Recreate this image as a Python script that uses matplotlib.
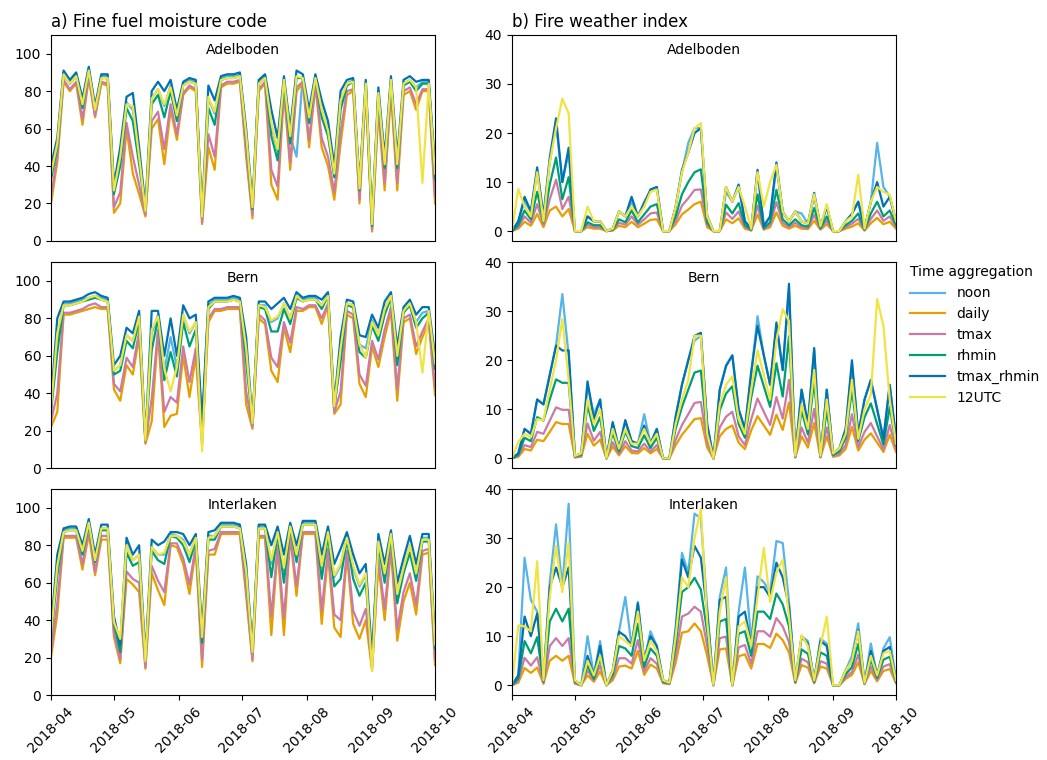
import matplotlib
matplotlib.use('Agg')
import matplotlib.pyplot as plt
import matplotlib.dates as mdates
import pandas as pd

# every third day from 1 April to 1 October 2018
dates = pd.date_range('2018-04-01', periods=62, freq='3D')
aggregations = ['noon', 'daily', 'tmax', 'rhmin', 'tmax_rhmin', '12UTC']
stations = ['Adelboden', 'Bern', 'Interlaken']

#%% fine fuel moisture code, Adelboden
ffmc_adel_noon = [36, 52, 90, 85, 89, 73, 92, 71, 88, 88, 27, 44, 74, 70, 45, 17, 76, 81, 72, 83,
                  67, 84, 86, 85, 14, 76, 68, 87, 88, 88, 89, 57, 18, 85, 88, 62, 48, 86, 56, 45,
                  88, 66, 88, 70, 59, 36, 74, 84, 86, 28, 85, 9, 80, 41, 86, 41, 84, 86, 82, 85, 85, 36]
ffmc_adel_daily = [20, 42, 85, 80, 84, 62, 87, 66, 84, 83, 15, 20, 60, 36, 25, 13, 60, 65, 41, 70,
                   54, 78, 82, 80, 9, 50, 38, 82, 84, 84, 85, 45, 12, 80, 84, 30, 22, 80, 38, 80,
                   84, 50, 83, 50, 40, 22, 52, 78, 80, 20, 80, 5, 70, 27, 80, 27, 78, 80, 70, 80, 80, 20]
ffmc_adel_tmax = [24, 45, 86, 81, 85, 65, 88, 67, 85, 84, 18, 26, 63, 45, 30, 14, 64, 69, 49, 73,
                  57, 79, 83, 81, 10, 57, 45, 83, 85, 85, 86, 48, 14, 81, 85, 38, 29, 82, 42, 82,
                  85, 54, 84, 55, 45, 26, 58, 80, 81, 22, 81, 6, 72, 31, 82, 31, 80, 82, 73, 81, 81, 24]
ffmc_adel_rhmin = [33, 50, 89, 84, 88, 71, 91, 70, 87, 87, 25, 40, 71, 64, 41, 16, 73, 78, 66, 80,
                   64, 83, 85, 84, 13, 71, 62, 86, 87, 87, 88, 55, 17, 84, 87, 56, 43, 85, 52, 87,
                   87, 63, 87, 66, 56, 34, 70, 83, 85, 27, 84, 8, 78, 39, 85, 39, 83, 85, 80, 84, 84, 33]
ffmc_adel_tmax_rhmin = [40, 55, 91, 86, 90, 76, 93, 72, 89, 89, 30, 50, 77, 79, 50, 18, 80, 85, 80, 86,
                        70, 85, 87, 86, 15, 83, 75, 88, 89, 89, 90, 60, 20, 86, 89, 70, 55, 88, 60, 91,
                        89, 70, 89, 75, 64, 40, 80, 86, 87, 30, 86, 10, 82, 45, 88, 45, 86, 88, 85, 86, 86, 40]
ffmc_adel_12utc = [36, 52, 89, 84, 88, 73, 91, 70, 87, 87, 27, 45, 73, 72, 45, 16, 76, 81, 73, 82,
                   67, 83, 85, 84, 13, 77, 69, 86, 87, 87, 88, 57, 18, 84, 87, 63, 49, 86, 56, 88,
                   87, 66, 87, 70, 59, 36, 75, 84, 85, 28, 84, 9, 79, 41, 86, 41, 84, 86, 82, 31, 84, 36]

#%% fine fuel moisture code, Bern
ffmc_bern_noon = [32, 70, 88, 88, 89, 90, 91, 92, 91, 90, 52, 55, 71, 68, 81, 15, 72, 82, 52, 70,
                  54, 82, 72, 78, 22, 87, 90, 90, 90, 91, 90, 63, 24, 87, 87, 78, 80, 88, 80, 92,
                  90, 91, 91, 87, 93, 30, 63, 88, 87, 66, 64, 79, 71, 85, 92, 59, 84, 88, 78, 83, 84, 56]
ffmc_bern_daily = [22, 30, 82, 82, 83, 84, 85, 86, 85, 85, 42, 36, 55, 50, 70, 13, 25, 72, 22, 28,
                   29, 60, 38, 60, 12, 78, 84, 84, 85, 85, 85, 34, 21, 80, 77, 52, 46, 75, 62, 84,
                   84, 86, 86, 77, 87, 29, 34, 82, 80, 45, 38, 65, 54, 70, 84, 36, 78, 80, 61, 70, 78, 39]
ffmc_bern_tmax = [25, 40, 83, 83, 84, 85, 87, 88, 86, 86, 45, 41, 59, 54, 73, 14, 37, 74, 30, 38,
                  35, 65, 46, 64, 15, 80, 85, 85, 86, 86, 86, 41, 22, 82, 79, 59, 54, 78, 67, 86,
                  85, 87, 87, 80, 88, 30, 41, 84, 82, 50, 44, 68, 58, 74, 86, 42, 80, 82, 65, 73, 80, 43]
ffmc_bern_rhmin = [30, 62, 87, 87, 88, 89, 90, 91, 90, 89, 50, 52, 68, 64, 79, 15, 63, 80, 47, 62,
                   49, 78, 65, 74, 20, 85, 89, 89, 89, 90, 89, 57, 24, 86, 85, 73, 73, 85, 77, 91,
                   89, 90, 90, 85, 92, 33, 57, 87, 86, 62, 59, 76, 68, 82, 91, 55, 83, 87, 75, 80, 83, 53]
ffmc_bern_tmax_rhmin = [35, 80, 89, 89, 90, 91, 93, 94, 92, 91, 55, 60, 75, 72, 84, 16, 84, 84, 60, 80,
                        60, 87, 80, 82, 25, 89, 91, 91, 91, 92, 91, 70, 25, 89, 89, 85, 88, 91, 85, 94,
                        91, 92, 92, 90, 94, 35, 70, 90, 89, 71, 70, 82, 75, 89, 94, 65, 86, 90, 82, 86, 86, 60]
ffmc_bern_12utc = [32, 72, 87, 87, 88, 89, 91, 92, 90, 89, 52, 55, 71, 68, 81, 15, 74, 81, 53, 41,
                   54, 82, 73, 78, 9, 86, 89, 89, 89, 90, 89, 64, 24, 87, 86, 79, 81, 88, 80, 92,
                   89, 90, 90, 87, 92, 33, 64, 88, 87, 66, 59, 78, 71, 85, 92, 60, 84, 88, 78, 51, 84, 56]

#%% fine fuel moisture code, Interlaken
ffmc_intl_noon = [32, 69, 88, 89, 89, 77, 92, 73, 89, 89, 40, 25, 80, 72, 75, 19, 79, 75, 75, 86,
                  85, 83, 75, 84, 31, 85, 85, 91, 91, 91, 90, 67, 24, 90, 90, 70, 88, 66, 91, 75,
                  92, 92, 92, 68, 87, 63, 69, 85, 68, 58, 64, 19, 83, 64, 86, 54, 68, 80, 65, 84, 84, 27]
ffmc_intl_daily = [20, 43, 84, 84, 84, 67, 86, 64, 83, 83, 31, 17, 62, 59, 55, 14, 65, 56, 48, 80,
                   79, 70, 54, 78, 15, 75, 75, 86, 86, 86, 86, 53, 18, 84, 84, 32, 78, 32, 85, 53,
                   86, 86, 86, 38, 75, 36, 31, 75, 38, 30, 40, 13, 70, 40, 78, 29, 50, 60, 43, 75, 76, 16]
ffmc_intl_tmax = [23, 49, 85, 85, 85, 70, 88, 66, 85, 85, 33, 19, 66, 62, 60, 15, 69, 61, 55, 81,
                  81, 73, 59, 80, 19, 77, 78, 87, 87, 87, 87, 56, 19, 85, 85, 42, 80, 41, 86, 58,
                  87, 87, 87, 45, 78, 43, 40, 77, 45, 37, 46, 15, 73, 46, 80, 35, 55, 65, 48, 77, 78, 19]
ffmc_intl_rhmin = [30, 64, 87, 88, 88, 75, 91, 71, 88, 88, 38, 23, 76, 69, 71, 18, 77, 72, 70, 85,
                   84, 80, 71, 83, 28, 83, 83, 90, 90, 90, 89, 64, 23, 89, 89, 63, 86, 60, 90, 71,
                   91, 91, 91, 62, 85, 58, 62, 83, 62, 53, 60, 18, 80, 60, 85, 49, 65, 76, 61, 82, 82, 25]
ffmc_intl_tmax_rhmin = [35, 75, 89, 90, 90, 80, 94, 75, 91, 91, 42, 27, 84, 75, 80, 20, 83, 80, 82, 87,
                        87, 86, 80, 86, 35, 87, 88, 92, 92, 92, 91, 70, 25, 91, 91, 80, 90, 75, 92, 80,
                        93, 93, 93, 75, 90, 70, 78, 87, 75, 65, 70, 20, 86, 70, 88, 60, 73, 85, 70, 86, 86, 30]
ffmc_intl_12utc = [32, 69, 87, 88, 88, 77, 92, 72, 89, 89, 39, 30, 80, 72, 75, 18, 79, 75, 76, 85,
                   85, 82, 75, 84, 31, 84, 85, 90, 90, 90, 89, 66, 23, 89, 89, 72, 87, 68, 90, 75,
                   91, 91, 91, 69, 87, 64, 70, 84, 69, 59, 65, 13, 82, 65, 86, 54, 68, 80, 65, 83, 83, 27]

#%% fire weather index, Adelboden
fwi_adel_noon = [0, 2, 6, 4, 12, 3, 14, 22, 10, 16, 0, 0, 3, 2, 2, 0, 0.5, 4, 3, 6,
                 3, 6, 8, 9, 0, 0, 5, 12, 18, 21, 21, 3, 0, 0, 8, 6, 9, 2, 0.5, 12,
                 1, 3, 13, 4, 2, 4, 3.6, 1.5, 7, 1, 5, 0, 0, 2, 3.5, 6, 0.5, 6, 18, 9, 7, 2]
fwi_adel_daily = [0, 0.5, 1.9, 1.1, 3.5, 0.8, 4.2, 5, 3, 4.5, 0, 0, 0.8, 0.5, 0.5, 0, 0.1, 1.1, 0.8, 1.9,
                  0.8, 1.5, 2.3, 2.4, 0, 0, 1.4, 3.4, 4.4, 5.5, 6, 0.8, 0, 0, 2.4, 1.6, 2.6, 0.5, 0.1, 3.4,
                  0.3, 0.8, 3.8, 1.1, 0.5, 1.1, 0.5, 0.4, 2.1, 0.3, 1.4, 0, 0, 0.5, 0.9, 1.6, 0.1, 1.6, 2.7, 1.4, 1.9, 0.5]
fwi_adel_tmax = [0, 0.8, 3, 1.7, 5.5, 1.3, 6.5, 10.5, 4.5, 7, 0, 0, 1.3, 0.8, 0.8, 0, 0.2, 1.7, 1.3, 3,
                 1.3, 2.4, 3.6, 3.8, 0, 0, 2.1, 5.2, 6.7, 8.4, 8.5, 1.3, 0, 0, 3.8, 2.5, 4, 0.8, 0.2, 5.2,
                 0.4, 1.3, 5.9, 1.7, 0.8, 1.7, 0.8, 0.6, 3.3, 0.4, 2.1, 0, 0, 0.8, 1.5, 2.5, 0.2, 2.5, 4.2, 2.1, 3, 0.8]
fwi_adel_rhmin = [0, 1.2, 4.2, 2.4, 8, 1.8, 9.5, 15, 6.5, 11, 0, 0, 1.8, 1.2, 1.2, 0, 0.3, 2.4, 1.8, 4.2,
                  1.8, 3.4, 5, 5.5, 0, 0, 3, 7.5, 10, 12, 12.6, 1.8, 0, 0, 5.4, 3.6, 5.7, 1.2, 0.3, 7.5,
                  0.6, 1.8, 8.4, 2.4, 1.2, 2.4, 1.2, 0.9, 4.7, 0.6, 3, 0, 0, 1.2, 2.1, 3.6, 0.3, 3.6, 6, 3, 4.2, 1.2]
fwi_adel_tmax_rhmin = [0, 2, 7, 4, 13, 3, 15, 23, 10, 17, 0, 0, 3, 2, 2, 0, 0.5, 4, 3, 7,
                       3, 5.7, 8.5, 9, 0, 0, 5, 12.5, 16, 20, 21, 3, 0, 0, 9, 6, 9.5, 2, 0.5, 12.5,
                       1, 3, 14, 4, 2, 4, 2, 1.5, 7.8, 1, 5, 0, 0, 2, 3.5, 6, 0.5, 6, 10, 5, 7, 2]
fwi_adel_12utc = [0, 8.6, 5, 3, 12, 2, 14, 21, 27, 24, 0, 0, 5, 2, 2, 0, 0.5, 4, 3, 5,
                  3, 5, 8, 8.5, 0, 0, 5, 12, 16, 21, 22, 3, 0, 0, 9, 6, 9, 5, 0.5, 12,
                  5, 10, 13.5, 4, 2, 4, 2, 1.5, 7.5, 1, 5.5, 0, 0, 2, 3, 11.5, 0.5, 6, 9, 8, 7.4, 2]

#%% fire weather index, Bern
fwi_bern_noon = [0, 1, 6, 5, 12, 11, 17, 23, 33.5, 21, 0.5, 1, 15, 9, 12, 0, 7, 2, 7.5, 3.5,
                 3, 9, 3, 6, 0, 0, 8.5, 15, 20, 24, 25, 7, 0, 14, 19, 21, 10, 6, 17, 29,
                 21, 15, 27, 18, 34, 0.5, 14, 7, 22, 0.5, 14, 1, 2, 6, 19, 5, 12, 16, 10, 4, 15, 4]
fwi_bern_daily = [0, 0.3, 1.9, 1.6, 3.8, 3.5, 5.4, 7.4, 7, 7, 0.2, 0.3, 5, 2.6, 3.8, 0, 2.4, 0.6, 2.5, 1.1,
                  1, 2.1, 1, 1.9, 0, 0, 2.7, 4.8, 6.4, 8, 8.2, 2.2, 0, 4.5, 6, 6.7, 3.2, 1.9, 5.7, 8.6,
                  6.7, 4.8, 8.9, 5.8, 11.4, 0.2, 4.5, 2.2, 7.2, 0.2, 4.5, 0.3, 0.6, 1.9, 6.4, 1.6, 3.8, 5.1, 3.2, 1.3, 4.8, 1.3]
fwi_bern_tmax = [0, 0.5, 2.7, 2.3, 5.4, 5, 7.7, 10.4, 9.9, 9.9, 0.2, 0.5, 7.1, 3.6, 5.4, 0, 3.3, 0.9, 3.5, 1.6,
                 1.4, 3, 1.4, 2.7, 0, 0, 3.8, 6.8, 9, 11.3, 11.5, 3.2, 0, 6.3, 8.5, 9.5, 4.5, 2.7, 8, 12.2,
                 9.5, 6.8, 12.5, 8.1, 16, 0.2, 6.3, 3.2, 10.1, 0.2, 6.3, 0.5, 0.9, 2.7, 9, 2.3, 5.4, 7.2, 4.5, 1.8, 6.8, 1.8]
fwi_bern_rhmin = [0, 0.7, 4.2, 3.5, 8.4, 7.7, 12, 16.1, 15.4, 15.4, 0.4, 0.7, 11, 5.6, 8.4, 0, 5.2, 1.4, 5.5, 2.5,
                  2.1, 4.7, 2.1, 4.2, 0, 0, 6, 10.5, 14, 17.5, 17.9, 4.9, 0, 9.8, 13.2, 14.7, 7, 4.2, 12.4, 18.9,
                  14.7, 10.5, 19.4, 12.6, 24.9, 0.4, 9.8, 4.9, 15.8, 0.4, 9.8, 0.7, 1.4, 4.2, 14, 3.5, 8.4, 11.2, 7, 2.8, 10.5, 2.8]
fwi_bern_tmax_rhmin = [0, 1, 6, 5, 12, 11, 17, 23, 22, 22, 0.5, 1, 15.7, 8, 12, 0, 7.4, 2, 7.8, 3.5,
                       3, 6.7, 3, 6, 0, 0, 8.5, 15, 20, 25, 25.6, 7, 0, 14, 18.8, 21, 10, 6, 17.7, 27,
                       21, 15, 27.7, 18, 35.6, 0.5, 14, 7, 22.5, 0.5, 14, 1, 2, 6, 20, 5, 12, 16, 10, 4, 15, 4]
fwi_bern_12utc = [0, 3.3, 5, 4.3, 8, 7.8, 14, 20, 28.4, 16, 0.5, 1, 12, 7, 10, 0, 6, 2, 6, 3,
                  3, 6, 3, 5, 0, 0, 7, 12, 16, 25, 25, 5, 0, 11, 15, 16.7, 8, 5, 14, 22,
                  17, 12, 24, 30.4, 28, 0.5, 11, 6, 18, 0.5, 12, 1, 2, 5, 16, 4, 10, 13, 32.5, 27, 12, 3]

#%% fire weather index, Interlaken
fwi_intl_noon = [0, 2, 26, 17.4, 15, 1, 21, 32.8, 20, 37, 1, 0, 10, 2, 9, 0, 3, 11, 18, 8,
                 17, 5, 11, 8, 1, 0.5, 12, 27, 23, 35, 34, 16, 0, 18, 24, 0, 15, 24, 9, 22.2,
                 21, 19, 29.4, 29, 17, 1, 10, 9, 1, 9.5, 8.5, 0, 0, 3, 6, 12.6, 0.5, 8.5, 2, 7.5, 9.8, 1]
fwi_intl_daily = [0, 0.5, 3.5, 2.5, 3.6, 0.3, 5, 6, 5, 6, 0.3, 0, 2, 0.7, 2.8, 0, 1, 3.8, 4, 3.4,
                  7, 2.1, 4.2, 3.4, 0.4, 0.2, 4.6, 10.7, 11, 12.6, 11, 6, 0, 7.3, 7.5, 0, 5.9, 6.3, 3.4, 8.4,
                  8.4, 7.6, 10.5, 9.2, 6.7, 0.4, 4.1, 3.6, 0.4, 3.8, 3.4, 0, 0, 1.3, 2.1, 4.7, 0.2, 2.9, 0.8, 2.9, 3.3, 0.4]
fwi_intl_tmax = [0, 0.8, 5.6, 4, 5.7, 0.4, 8, 9.6, 8, 9.6, 0.4, 0, 3, 1, 4, 0, 1.5, 5.5, 5.5, 4.4,
                 9.2, 2.8, 5.5, 4.4, 0.5, 0.3, 6, 14, 14.6, 16, 15, 8, 0, 9.6, 9.9, 0, 7.7, 8.2, 4.4, 11,
                 11, 9.9, 13.7, 12, 8.8, 0.5, 5.4, 4.7, 0.5, 4.9, 4.4, 0, 0, 1.6, 2.7, 6.2, 0.3, 3.8, 1.1, 3.8, 4.3, 0.5]
fwi_intl_rhmin = [0, 1.3, 9, 6.5, 9.8, 0.7, 13, 15.6, 13, 15.6, 0.7, 0, 4, 1.3, 5.5, 0, 2.2, 8, 7.5, 6,
                  12.5, 3.7, 7.5, 6, 0.7, 0.4, 8.2, 19, 20, 21.9, 19.5, 11, 0, 13, 13.5, 0, 10.5, 11, 6, 15,
                  15, 13.5, 18.7, 16.5, 12, 0.7, 7.3, 6.4, 0.7, 6.7, 6, 0, 0, 2.2, 3.7, 8.4, 0.4, 5.2, 1.5, 5.2, 5.8, 0.7]
fwi_intl_tmax_rhmin = [0, 2, 14, 10, 14.6, 1, 20, 24, 20, 24, 1, 0, 6, 2, 8, 0, 3, 10.9, 10, 8,
                       16.7, 5, 10, 8, 1, 0.5, 11, 25.6, 22, 28.4, 26, 15, 0, 17.4, 18, 0, 14, 15, 8, 20,
                       20, 18, 25, 22, 16, 1, 9.8, 8.5, 1, 9, 8, 0, 0, 3, 5, 11.2, 0.5, 7, 2, 7, 7.8, 1]
fwi_intl_12utc = [0, 12.2, 12, 11, 25.3, 1, 18, 28.4, 19, 29, 1, 0, 5, 2, 6, 0, 3, 10, 9, 8,
                  15, 5, 9, 7, 1, 0.5, 10, 22, 20, 30, 36, 13, 0, 15, 22, 0, 12, 13, 8, 18,
                  28, 17, 23, 25.6, 14, 1, 10.2, 8, 1, 8, 14, 0, 0, 3, 5, 11, 0.5, 6, 2, 6.5, 7, 1]

ffmc = {'Adelboden': [ffmc_adel_noon, ffmc_adel_daily, ffmc_adel_tmax, ffmc_adel_rhmin,
                      ffmc_adel_tmax_rhmin, ffmc_adel_12utc],
        'Bern': [ffmc_bern_noon, ffmc_bern_daily, ffmc_bern_tmax, ffmc_bern_rhmin,
                 ffmc_bern_tmax_rhmin, ffmc_bern_12utc],
        'Interlaken': [ffmc_intl_noon, ffmc_intl_daily, ffmc_intl_tmax, ffmc_intl_rhmin,
                       ffmc_intl_tmax_rhmin, ffmc_intl_12utc]}
fwi = {'Adelboden': [fwi_adel_noon, fwi_adel_daily, fwi_adel_tmax, fwi_adel_rhmin,
                     fwi_adel_tmax_rhmin, fwi_adel_12utc],
       'Bern': [fwi_bern_noon, fwi_bern_daily, fwi_bern_tmax, fwi_bern_rhmin,
                fwi_bern_tmax_rhmin, fwi_bern_12utc],
       'Interlaken': [fwi_intl_noon, fwi_intl_daily, fwi_intl_tmax, fwi_intl_rhmin,
                      fwi_intl_tmax_rhmin, fwi_intl_12utc]}

colors = ['#56B4E9', '#E69F00', '#CC79A7', '#009E73', '#0072B2', '#F0E442']

fig = plt.figure(figsize=(10.47, 7.6), dpi=100)

# make the axes
xleft = 0.0487
xright = 0.489
width = 0.3668
height = 0.271
bottoms = [0.683, 0.384, 0.0855]
axes = []
for idx, station in enumerate(stations):
    ax1 = fig.add_axes([xleft, bottoms[idx], width, height])
    ax2 = fig.add_axes([xright, bottoms[idx], width, height])
    axes.append([ax1, ax2])

    for agg, col, y1, y2 in zip(aggregations, colors, ffmc[station], fwi[station]):
        ax1.plot(dates, y1, color=col, lw=1.6, label=agg)
        ax2.plot(dates, y2, color=col, lw=1.6, label=agg)

    ax1.set_ylim(0, 110)
    ax1.set_yticks([0, 20, 40, 60, 80, 100])
    ax2.set_ylim(-2, 40)
    ax2.set_yticks([0, 10, 20, 30, 40])
    for ax in [ax1, ax2]:
        ax.set_xlim(pd.Timestamp('2018-04-01'), pd.Timestamp('2018-10-01'))
        ax.text(0.5, 0.925, station, transform=ax.transAxes,
                ha='center', va='center', fontsize=10)
        ax.xaxis.set_major_locator(mdates.MonthLocator())
        ax.xaxis.set_major_formatter(mdates.DateFormatter('%Y-%m'))
        if idx != 2:
            ax.tick_params(axis='x', bottom=False, labelbottom=False)
        else:
            ax.tick_params(axis='x', labelrotation=45, labelsize=10)
        ax.tick_params(axis='y', labelsize=10)

axes[0][0].set_title('a) Fine fuel moisture code', loc='left', fontsize=12)
axes[0][1].set_title('b) Fire weather index', loc='left', fontsize=12)

axes[1][1].legend(title='Time aggregation', loc='upper left',
                  bbox_to_anchor=(1.005, 1.045), frameon=False, fontsize=10,
                  title_fontsize=10, alignment='left', handlelength=2.5)

fig.savefig('out.png', dpi=100)
